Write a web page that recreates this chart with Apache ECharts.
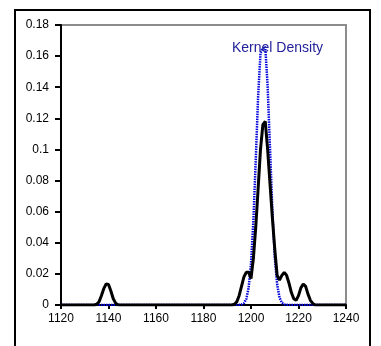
<!DOCTYPE html>
<html>
<head>
<meta charset="utf-8">
<script src="https://cdn.jsdelivr.net/npm/echarts@6/dist/echarts.min.js"></script>
<style>
  html, body { margin: 0; padding: 0; background: #fff; }
  #chart { width: 381px; height: 346px; }
</style>
</head>
<body>
<div id="chart"></div>
<script>
// Axis ticks
const xTicks = [1120, 1140, 1160, 1180, 1200, 1220, 1240];
const yTicks = [0, 0.02, 0.04, 0.06, 0.08, 0.1, 0.12, 0.14, 0.16, 0.18];

// Observed density (black curve)
const observedX = [1120, 1134, 1135, 1136, 1137, 1138, 1139, 1140, 1141, 1142, 1143, 1144, 1145,
  1192, 1193, 1194, 1195, 1196, 1197, 1198, 1199, 1200, 1201, 1202, 1203, 1204, 1205, 1206,
  1207, 1208, 1209, 1210, 1211, 1212, 1213, 1214, 1215, 1216, 1217, 1218, 1219, 1220, 1221,
  1222, 1223, 1224, 1225, 1226, 1227, 1240];
const observedY = [0, 0, 0.0005, 0.002, 0.006, 0.0105, 0.0135, 0.0132, 0.009, 0.004, 0.0012, 0.0002, 0,
  0, 0.0005, 0.002, 0.006, 0.012, 0.018, 0.021, 0.021, 0.017, 0.030, 0.050, 0.075, 0.100, 0.116, 0.118,
  0.100, 0.078, 0.056, 0.036, 0.019, 0.016, 0.019, 0.021, 0.019, 0.014, 0.008, 0.004, 0.003, 0.006, 0.011,
  0.0135, 0.012, 0.007, 0.003, 0.001, 0, 0];

// Kernel density estimate (blue dotted curve)
const kernelX = [1120, 1194, 1195, 1196, 1197, 1198, 1199, 1200, 1201, 1202, 1203, 1204, 1205, 1206,
  1207, 1208, 1209, 1210, 1211, 1212, 1213, 1214, 1215, 1216, 1217, 1240];
const kernelY = [0, 0, 0.0001, 0.0003, 0.0011, 0.0038, 0.011, 0.0266, 0.054, 0.093, 0.134, 0.162, 0.165, 0.166,
  0.141, 0.101, 0.061, 0.031, 0.0133, 0.0048, 0.0014, 0.0004, 0.0001, 0, 0, 0];

const kernelLabel = 'Kernel Density';

const pairs = (xs, ys) => xs.map((x, i) => [x, ys[i]]);
const font = '"Liberation Sans", Arial, sans-serif';

const chart = echarts.init(document.getElementById('chart'));
chart.setOption({
  animation: false,
  backgroundColor: '#fff',
  grid: {
    left: 61, right: 35, top: 25, bottom: 41,
    show: true, borderColor: '#8c8c8c', borderWidth: 2, backgroundColor: '#fff'
  },
  xAxis: {
    type: 'value', min: xTicks[0], max: xTicks[xTicks.length - 1], interval: 20,
    axisLine: { lineStyle: { color: '#000', width: 2 } },
    axisTick: { length: 4, lineStyle: { color: '#000', width: 2 } },
    axisLabel: { color: '#000', fontSize: 12, fontFamily: font, margin: 8,
      formatter: v => String(v) },
    splitLine: { show: false }
  },
  yAxis: {
    type: 'value', min: yTicks[0], max: yTicks[yTicks.length - 1], interval: 0.02,
    axisLine: { show: true, lineStyle: { color: '#000', width: 2 } },
    axisTick: { show: true, length: 6, lineStyle: { color: '#000', width: 2 } },
    axisLabel: { color: '#000', fontSize: 12, fontFamily: font, margin: 12,
      formatter: v => String(+v.toFixed(2)) },
    splitLine: { show: false }
  },
  graphic: [
    {
      type: 'rect', silent: true, z: 100,
      shape: { x: 15, y: 10, width: 355, height: 350 },
      style: { fill: 'none', stroke: '#000', lineWidth: 2 }
    },
    {
      type: 'text', left: 232, top: 41, z: 100,
      style: { text: kernelLabel, fill: '#22229a', font: '14px ' + font }
    }
  ],
  series: [
    {
      type: 'line', data: pairs(kernelX, kernelY), showSymbol: false, smooth: false,
      lineStyle: { color: '#0000dd', width: 2.5, type: [1.5, 1] }, z: 2
    },
    {
      type: 'line', data: pairs(observedX, observedY), showSymbol: false, smooth: false,
      lineStyle: { color: '#000', width: 3 }, z: 3
    }
  ]
});
</script>
</body>
</html>
